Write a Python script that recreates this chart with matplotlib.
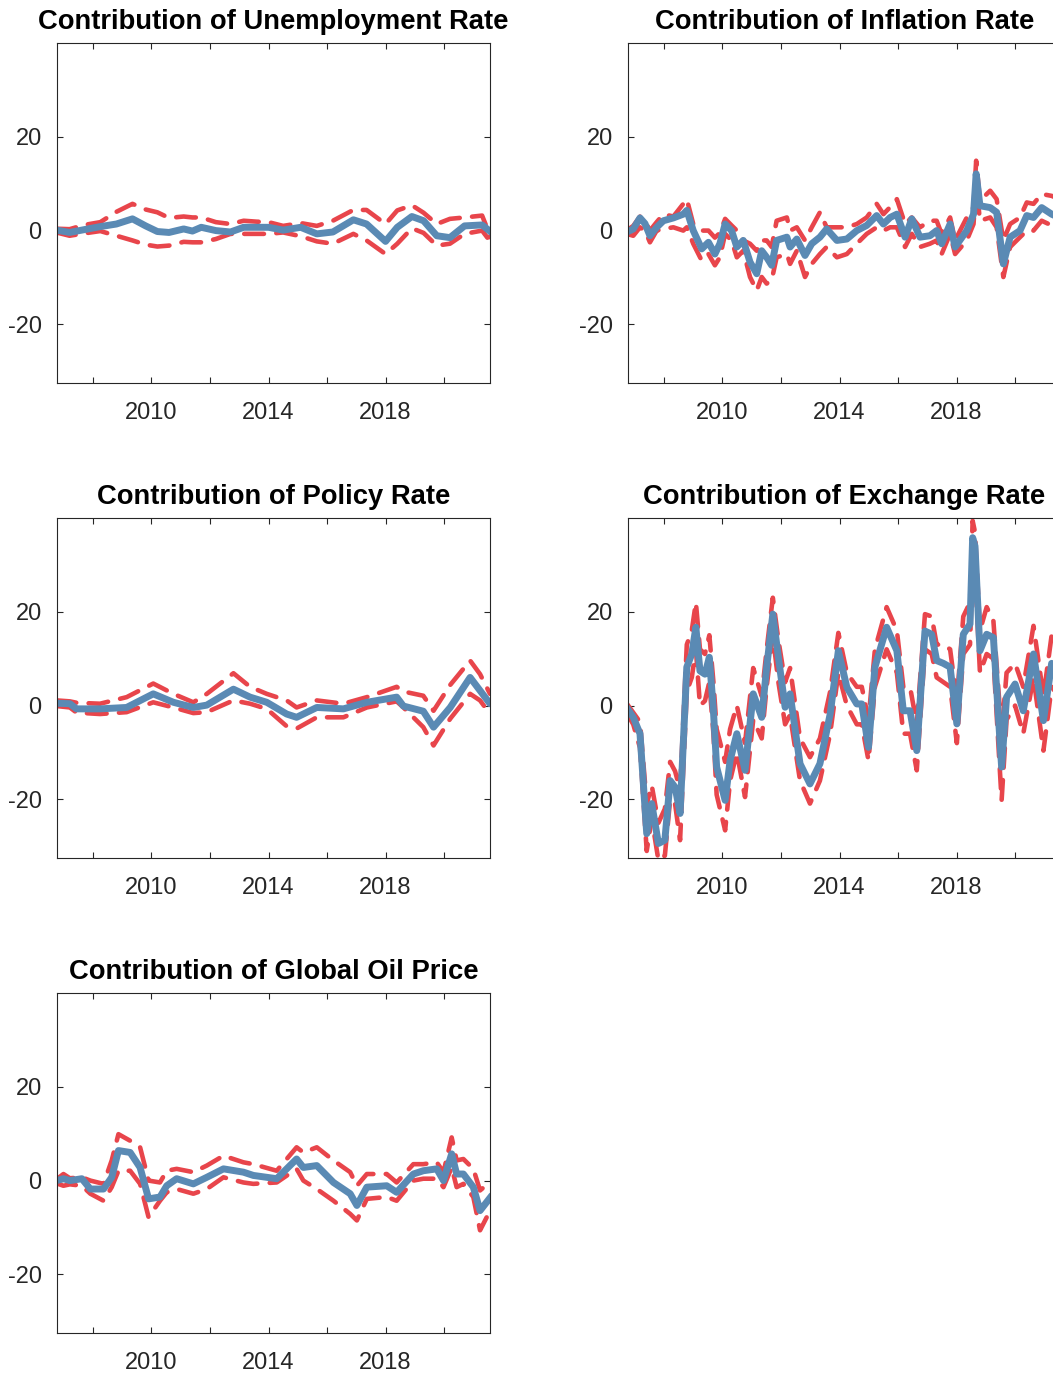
import numpy as np
import matplotlib
matplotlib.use('Agg')
import matplotlib.pyplot as plt

plt.rcParams['font.family'] = ['Liberation Sans', 'DejaVu Sans']
plt.rcParams['axes.unicode_minus'] = False

# ---- data ----
# Unemployment rate
unemp_t = [2006.75, 2007.2, 2007.7, 2008.25, 2008.8, 2009.35, 2009.8, 2010.2, 2010.6, 2011.1,
           2011.4, 2011.7, 2012.2, 2012.7, 2013.15, 2013.6, 2014.0, 2014.5, 2015.1, 2015.65,
           2016.2, 2016.9, 2017.35, 2018.0, 2018.4, 2018.9, 2019.3, 2019.75, 2020.2, 2020.7,
           2021.3, 2021.6]
unemp_med = [0.1, -0.4, 0.2, 0.85, 1.4, 2.5, 1.0, -0.2, -0.4, 0.35,
             -0.1, 0.7, 0.0, -0.3, 0.7, 0.7, 0.7, 0.1, 0.7, -0.7,
             -0.3, 2.3, 1.4, -2.3, 0.7, 3.0, 2.1, -1.1, -1.5, 1.0,
             1.2, -0.3]
unemp_hi = [0.4, 0.3, 1.2, 1.8, 4.0, 5.7, 4.5, 3.9, 2.7, 3.0,
            2.8, 2.8, 1.8, 1.4, 2.1, 1.9, 1.8, 1.0, 1.6, 1.0,
            2.1, 4.4, 4.4, 1.4, 4.3, 5.4, 3.8, 1.4, 2.5, 2.8,
            3.2, -1.5]
unemp_lo = [-0.4, -1.1, -0.6, -0.1, -1.1, -2.1, -3.0, -3.4, -3.2, -2.4,
            -2.5, -2.5, -1.8, -0.7, -0.7, -0.7, -0.7, -0.4, -1.2, -2.3,
            -2.8, -0.7, -2.1, -5.0, -2.8, 0.5, -0.5, -3.2, -2.8, -0.7,
            0.0, -2.5]

# Inflation rate
infl_t = [2006.72, 2006.95, 2007.18, 2007.35, 2007.52, 2007.75, 2007.98, 2008.32, 2008.66, 2008.78,
          2009.00, 2009.29, 2009.52, 2009.74, 2009.91, 2010.09, 2010.31, 2010.49, 2010.71, 2010.94,
          2011.17, 2011.34, 2011.51, 2011.68, 2011.85, 2012.20, 2012.31, 2012.54, 2012.82, 2013.05,
          2013.33, 2013.56, 2013.91, 2014.25, 2014.59, 2014.93, 2015.27, 2015.50, 2015.73, 2015.96,
          2016.24, 2016.47, 2016.75, 2017.09, 2017.32, 2017.49, 2017.78, 2017.95, 2018.35, 2018.58,
          2018.67, 2018.80, 2019.15, 2019.37, 2019.60, 2019.83, 2020.17, 2020.40, 2020.63, 2020.91,
          2021.25, 2021.6]
infl_med = [-0.35, 0.35, 2.7, 1.5, -1.1, 0.7, 2.1, 2.7, 3.5, 4.3,
            0.0, -3.9, -2.5, -5.0, -2.8, 1.4, 0.0, -3.5, -2.1, -6.7,
            -9.2, -4.3, -5.7, -7.4, -2.1, -1.4, -3.5, -1.8, -5.3, -2.8,
            -1.4, 0.35, -2.1, -1.8, 0.0, 1.1, 3.2, 1.4, 2.8, 3.5,
            -1.4, 2.5, -1.4, -1.1, 0.0, -2.8, 1.4, -3.5, 0.0, 3.5,
            12.1, 5.3, 4.9, 3.9, -7.1, -1.4, 0.0, 3.2, 2.8, 4.9,
            3.5, 2.5]
infl_hi = [0.0, 1.0, 3.0, 2.0, 0.0, 1.8, 3.5, 3.0, 5.7, 6.7,
           1.4, 0.0, 0.0, -1.5, -0.5, 2.5, 1.1, 0.0, -2.1, -2.8,
           -4.3, -2.1, -2.1, -3.5, 2.1, 2.8, 0.0, 0.7, -2.1, 0.7,
           3.9, 0.7, 0.7, 0.7, 1.4, 2.8, 5.7, 3.5, 5.0, 6.7,
           1.4, 2.8, 0.7, 2.1, 2.1, -0.7, 2.8, -2.1, 2.8, 5.0,
           14.9, 6.4, 8.5, 6.7, -2.1, 1.4, 2.8, 6.0, 5.7, 7.8,
           7.4, 6.5]
infl_lo = [-0.7, -1.1, 0.7, 0.0, -2.5, 0.0, 0.35, 0.7, 0.0, 0.7,
           -2.8, -6.4, -5.0, -7.4, -5.7, -0.7, -2.1, -5.7, -4.3, -9.9,
           -12.8, -9.9, -11.3, -10.6, -5.7, -5.0, -7.1, -4.3, -9.9, -7.1,
           -5.0, -3.5, -5.7, -5.0, -2.8, -0.7, 0.7, 0.0, 0.7, 0.7,
           -3.5, -0.7, -3.5, -2.8, -2.1, -5.0, -0.7, -5.0, -2.1, 1.4,
           10.0, 2.1, 2.8, 0.7, -9.9, -3.5, -1.4, 0.0, 0.0, 2.1,
           1.1, -0.5]

# Policy rate
pol_t = [2006.76, 2007.21, 2007.44, 2008.24, 2009.15, 2010.06, 2010.75, 2011.43, 2011.89, 2012.80,
         2013.37, 2013.94, 2014.62, 2014.96, 2015.65, 2016.56, 2017.36, 2018.38, 2018.61, 2019.29,
         2019.64, 2020.21, 2020.89, 2021.23, 2021.57]
pol_med = [0.5, 0.4, -0.7, -0.7, -0.4, 2.5, 0.7, -0.4, 0.1, 3.5,
           1.8, 0.7, -1.8, -2.5, -0.4, -0.7, 0.7, 1.8, -0.1, -1.2,
           -4.6, -0.4, 6.0, 3.2, 0.4]
pol_hi = [1.1, 0.9, 0.6, 0.4, 1.8, 4.7, 2.5, 0.7, 2.5, 6.9,
          4.0, 2.5, 1.1, -0.4, 1.1, 0.4, 1.8, 4.0, 3.0, 2.1,
          -1.1, 4.4, 9.6, 6.7, 2.5]
pol_lo = [-0.1, -0.4, -1.5, -1.8, -1.4, 0.7, -0.4, -1.6, -1.4, 1.1,
          0.4, -0.7, -4.4, -4.9, -2.5, -2.5, -0.4, 0.9, -0.4, -4.6,
          -8.5, -2.8, 2.5, 1.1, -1.8]

# Exchange rate
fx_t = [2006.72, 2006.95, 2007.18, 2007.41, 2007.58, 2007.81, 2008.03, 2008.21, 2008.38, 2008.55,
        2008.78, 2008.95, 2009.09, 2009.23, 2009.40, 2009.55, 2009.69, 2009.80, 2010.09, 2010.26,
        2010.49, 2010.77, 2011.05, 2011.34, 2011.51, 2011.72, 2011.91, 2012.14, 2012.31, 2012.65,
        2012.99, 2013.33, 2013.68, 2013.96, 2014.25, 2014.59, 2014.76, 2014.99, 2015.21, 2015.61,
        2015.96, 2016.18, 2016.41, 2016.64, 2016.92, 2017.15, 2017.32, 2017.55, 2017.78, 2018.01,
        2018.23, 2018.46, 2018.55, 2018.63, 2018.80, 2019.03, 2019.26, 2019.54, 2019.71, 2020.00,
        2020.28, 2020.63, 2020.97, 2021.25, 2021.6]
fx_med = [-0.35, -2.5, -6.0, -27.3, -20.9, -29.4, -28.7, -16.0, -17.4, -23.0,
          8.2, 11.0, 16.7, 7.4, 6.7, 10.3, -1.1, -13.1, -20.2, -11.7,
          -6.0, -13.8, 2.5, -2.5, 8.2, 19.5, 10.3, -0.35, 2.5, -12.4,
          -16.7, -12.4, -1.8, 11.7, 3.9, 0.35, 0.35, -8.9, 8.2, 16.7,
          11.7, -1.1, -1.1, -9.6, 15.9, 15.2, 9.6, 9.0, 8.2, -3.9,
          15.2, 17.4, 35.8, 34.0, 11.7, 15.2, 14.5, -13.1, 1.8, 4.6,
          -1.1, 11.0, -3.2, 9.0, 6.0]
fx_hi = [0.5, -1.5, -3.5, -21.0, -17.0, -25.0, -22.0, -12.0, -14.0, -18.0,
         13.0, 16.0, 22.0, 12.0, 11.0, 15.0, 5.0, -5.0, -12.0, -5.0,
         0.0, -8.0, 8.0, 2.0, 12.0, 23.0, 14.0, 5.0, 8.0, -7.0,
         -11.0, -7.0, 3.0, 15.5, 7.0, 4.0, 4.0, -3.0, 12.0, 21.0,
         16.0, 4.0, 4.0, -4.0, 19.5, 19.0, 13.0, 13.0, 12.0, 1.0,
         19.0, 22.0, 39.4, 37.0, 16.0, 21.0, 18.0, -6.0, 7.0, 9.0,
         4.0, 17.0, 2.0, 15.0, 11.0]
fx_lo = [-1.5, -4.0, -9.0, -31.0, -24.0, -33.0, -32.0, -20.0, -21.0, -28.7,
         3.0, 6.0, 12.0, 0.0, 1.0, 5.0, -6.0, -19.0, -26.6, -16.0,
         -10.0, -19.5, -3.0, -7.0, 4.0, 15.0, 5.0, -4.0, -2.0, -16.0,
         -20.9, -16.0, -6.0, 7.0, 0.0, -4.0, -4.0, -11.7, 4.0, 12.0,
         7.0, -6.0, -6.0, -13.8, 12.0, 11.0, 6.0, 5.0, 4.0, -8.0,
         11.0, 13.0, 31.0, 29.0, 7.0, 11.0, 10.0, -20.2, -3.0, 0.0,
         -6.0, 6.0, -9.6, 4.0, 1.0]

# Global oil price
oil_t = [2006.76, 2006.99, 2007.21, 2007.62, 2007.91, 2008.36, 2008.64, 2008.87, 2009.27, 2009.61,
         2009.90, 2010.29, 2010.52, 2010.86, 2011.43, 2011.89, 2012.46, 2013.14, 2013.48, 2014.28,
         2014.96, 2015.19, 2015.65, 2016.22, 2016.79, 2017.02, 2017.36, 2018.04, 2018.38, 2018.95,
         2019.29, 2019.75, 2019.98, 2020.26, 2020.43, 2020.66, 2021.00, 2021.23, 2021.63]
oil_med = [0.0, 0.4, 0.0, 0.4, -1.8, -1.8, 0.7, 6.4, 6.0, 2.8,
           -3.9, -3.5, -1.1, 0.4, -0.7, 0.7, 2.5, 1.8, 1.1, 0.4,
           4.6, 2.8, 3.2, -0.4, -2.8, -5.3, -1.4, -1.1, -2.5, 1.4,
           2.1, 2.5, 0.0, 5.7, 1.4, 1.4, -1.4, -6.4, -3.2]
oil_hi = [0.3, 1.4, 0.5, 0.7, 0.0, -0.7, 4.3, 9.9, 8.5, 7.1,
          0.0, -0.4, 2.1, 2.5, 1.8, 3.2, 5.3, 3.9, 3.5, 2.1,
          7.1, 6.0, 7.1, 4.3, 1.8, -1.1, 1.4, 1.4, -0.4, 3.5,
          3.5, 3.9, 1.8, 9.2, 4.3, 4.6, 2.5, -2.1, 0.0]
oil_lo = [-0.6, -1.1, -0.8, -1.1, -2.8, -4.3, -1.4, 2.1, 2.1, -0.7,
          -7.8, -4.3, -2.5, -1.8, -2.8, -1.8, 0.7, -0.4, -0.7, -0.4,
          2.5, 0.0, -1.8, -4.3, -7.1, -8.5, -3.9, -3.5, -4.3, 0.0,
          0.4, 0.4, -1.4, 2.8, -1.4, -0.7, -3.5, -10.6, -5.7]

xtick_pos = [2008, 2010, 2012, 2014, 2016, 2018, 2020]
xtick_lab = ['', '2010', '', '2014', '', '2018', '']
ytick_pos = [-20, 0, 20]

panels = [
    ('Contribution of Unemployment Rate', unemp_t, unemp_med, unemp_hi, unemp_lo),
    ('Contribution of Inflation Rate', infl_t, infl_med, infl_hi, infl_lo),
    ('Contribution of Policy Rate', pol_t, pol_med, pol_hi, pol_lo),
    ('Contribution of Exchange Rate', fx_t, fx_med, fx_hi, fx_lo),
    ('Contribution of Global Oil Price', oil_t, oil_med, oil_hi, oil_lo),
]

BLUE = '#5A8AB4'
RED = '#E8454B'
DARK = '#262626'

fig = plt.figure(figsize=(10.53, 13.75), dpi=100)
W, H = 1053, 1375
ax_w, ax_h = 433, 340
lefts = [57, 628]
tops = [43, 518, 993]

for i, (title, t, med, hi, lo) in enumerate(panels):
    row, col = divmod(i, 2)
    x0 = lefts[col]
    y1 = tops[row] + ax_h
    ax = fig.add_axes([x0 / W, 1 - y1 / H, ax_w / W, ax_h / H])

    for band in (hi, lo):
        ax.plot(t, band, color=RED, lw=3.3, ls=(0, (4.3, 2.7)),
                dash_capstyle='round', dash_joinstyle='round')
    ax.plot(t, med, color=BLUE, lw=5.0, solid_capstyle='round',
            solid_joinstyle='round')

    ax.set_xlim(2006.77, 2021.57)
    ax.set_ylim(-32.5, 40)
    ax.set_xticks(xtick_pos)
    ax.set_xticklabels(xtick_lab)
    ax.set_yticks(ytick_pos)
    ax.set_yticklabels([str(v) for v in ytick_pos])
    ax.tick_params(direction='in', length=4, width=0.8, color=DARK,
                   labelcolor=DARK, labelsize=17, top=True, right=True)
    ax.tick_params(axis='x', pad=14)
    ax.tick_params(axis='y', pad=11)
    for sp in ax.spines.values():
        sp.set_color(DARK)
        sp.set_linewidth(0.8)
    ax.set_title(title, fontsize=19.7, fontweight='bold', pad=10, color='black')

fig.savefig('out.png', dpi=100, facecolor='white')
